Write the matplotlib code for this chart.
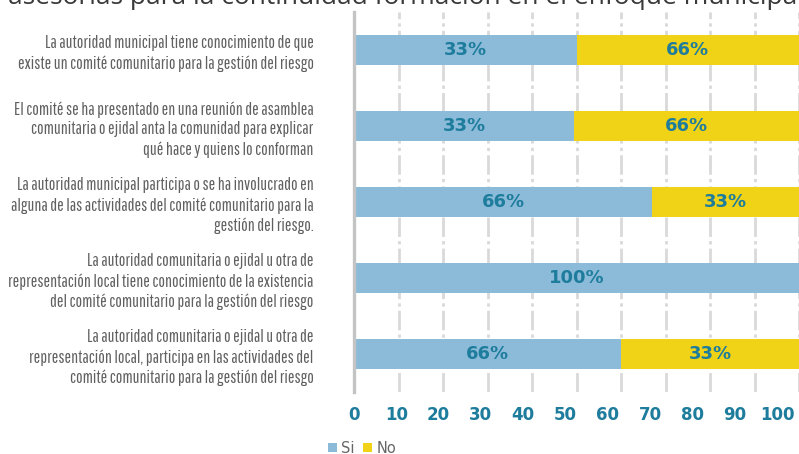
import matplotlib
matplotlib.use("Agg")
import matplotlib.pyplot as plt
import matplotlib.transforms as mtransforms
import numpy as np

categories = [
    "La autoridad municipal tiene conocimiento de que\nexiste un comité comunitario para la gestión del riesgo",
    "El comité se ha presentado en una reunión de asamblea\ncomunitaria o ejidal anta la comunidad para explicar\nqué hace y quiens lo conforman",
    "La autoridad municipal participa o se ha involucrado en\nalguna de las actividades del comité comunitario para la\ngestión del riesgo.",
    "La autoridad comunitaria o ejidal u otra de\nrepresentación local tiene conocimiento de la existencia\ndel comité comunitario para la gestión del riesgo",
    "La autoridad comunitaria o ejidal u otra de\nrepresentación local, participa en las actividades del\ncomité comunitario para la gestión del riesgo",
]
si_values = [50, 49.5, 67, 100, 60]
no_values = [50, 50.5, 33, 0, 40]
si_labels = ["33%", "33%", "66%", "100%", "66%"]
no_labels = ["66%", "66%", "33%", "", "33%"]
xticks = [0, 10, 20, 30, 40, 50, 60, 70, 80, 90, 100]
title = "asesorías para la continuidad formación en el enfoque municipal"

BLUE = "#8BBBD9"
YELLOW = "#F0D317"
TEAL = "#1E7C9C"
GRAY_TXT = "#606060"
NUM_FONT = ["DejaVu Sans"]
CAT_FONT = ["Pathway Gothic One", "PT Sans Narrow", "DejaVu Sans"]

W, H = 799, 454
fig = plt.figure(figsize=(W / 100, H / 100), dpi=100)
ax = fig.add_axes([354 / W, 1 - 392 / H, (W - 354) / W, (392 - 12) / H])

y = np.arange(len(categories))
ax.barh(y, si_values, height=0.4, color=BLUE, zorder=2, label="Si")
ax.barh(y, no_values, left=si_values, height=0.4, color=YELLOW, zorder=2, label="No")

for i in range(len(categories)):
    if si_labels[i]:
        ax.text(si_values[i] / 2, y[i], si_labels[i], ha="center", va="center",
                color=TEAL, fontsize=13, fontweight="bold", family=NUM_FONT, zorder=3)
    if no_labels[i]:
        ax.text(si_values[i] + no_values[i] / 2, y[i], no_labels[i], ha="center", va="center",
                color=TEAL, fontsize=13, fontweight="bold", family=NUM_FONT, zorder=3)

ax.set_xlim(0, 100)
ax.set_ylim(len(categories) - 0.5, -0.5)
ax.set_xticks(xticks)
ax.set_xticklabels([str(t) for t in xticks], color=TEAL, fontsize=12, fontweight="bold",
                   family=NUM_FONT)
ax.set_yticks(y)
ax.set_yticklabels(categories, fontsize=12.6, color=GRAY_TXT,
                   family=CAT_FONT, linespacing=1.3)
ax.tick_params(axis="x", length=0, pad=10)
ax.tick_params(axis="y", length=0, pad=29)
# the tick labels sit slightly tighter than the grid in the reference
for k, lab in enumerate(ax.get_xticklabels()):
    shift = mtransforms.ScaledTranslation(-2.2 * k / 100, 0, fig.dpi_scale_trans)
    lab.set_transform(lab.get_transform() + shift)

ax.grid(axis="x", color="#D9D9D9", linewidth=2, linestyle=(0, (7, 1.5, 1.2, 1.5)), zorder=0)
ax.grid(axis="y", visible=False)
for s in ["top", "right", "bottom"]:
    ax.spines[s].set_visible(False)
ax.spines["left"].set_color("#C4C4C4")
ax.spines["left"].set_linewidth(2.4)
ax.spines["left"].set_zorder(4)

fig.text(8 / W, 1 - 4 / H, title, ha="left", va="baseline", fontsize=19,
         color="#3A3A3A", family=["Open Sans", "DejaVu Sans"])

fig.legend(loc="upper left", bbox_to_anchor=(328 / W, 1 - 441 / H), ncol=2, frameon=False,
           handlelength=0.6, handleheight=0.6, handletextpad=0.3, columnspacing=0.6,
           fontsize=10.5, labelcolor="#666666", borderaxespad=0, borderpad=0)

fig.savefig("out.png", dpi=100)
